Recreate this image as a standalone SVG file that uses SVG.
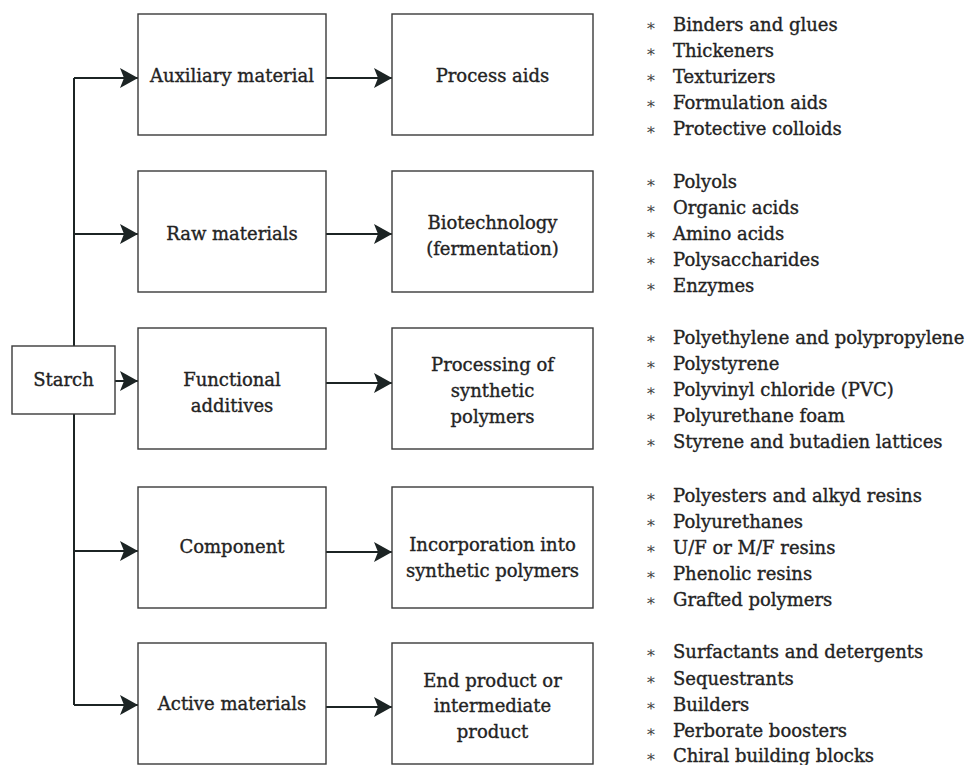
<svg xmlns="http://www.w3.org/2000/svg" width="967" height="765" viewBox="0 0 967 765">
  <style>
    .box { fill: #ffffff; stroke: #3a3a3a; stroke-width: 1.4; }
    .lbl { font-family: "DejaVu Serif", "Liberation Serif", serif; font-size: 18px; fill: #232323; stroke: #232323; stroke-width: 0.35; text-anchor: middle; }
    .item { font-family: "DejaVu Serif", "Liberation Serif", serif; font-size: 18px; fill: #232323; stroke: #232323; stroke-width: 0.35; }
    .bul { font-family: "DejaVu Serif", "Liberation Serif", serif; font-size: 16px; fill: #444; text-anchor: middle; }
    .wire { fill: none; stroke: #1c2424; stroke-width: 2; }
    .arr { fill: none; stroke: #1c2424; stroke-width: 2; marker-end: url(#head); }
  </style>
  <defs>
    <marker id="head" viewBox="0 0 18 20" refX="18" refY="10" markerWidth="18" markerHeight="20" markerUnits="userSpaceOnUse" orient="auto">
      <path d="M0,0 L18,10 L0,20 L4,10 Z" fill="#1c2424"/>
    </marker>
  </defs>

  <!-- connectors -->
  <g id="connectors">
    <path class="wire" d="M74,78 V705"/>
    <path class="arr" d="M74,78 H138"/>
    <path class="arr" d="M74,234 H138"/>
    <path class="arr" d="M115,381 H138"/>
    <path class="arr" d="M74,551 H138"/>
    <path class="arr" d="M74,705 H138"/>
    <path class="arr" d="M326,78 H392"/>
    <path class="arr" d="M326,234 H392"/>
    <path class="arr" d="M326,383 H392"/>
    <path class="arr" d="M326,552 H392"/>
    <path class="arr" d="M326,707 H392"/>
  </g>

  <g id="starch">
    <rect class="box" x="12" y="346" width="103" height="68"/>
    <text class="lbl" x="63.5" y="386">Starch</text>
  </g>

  <!-- first column: role of starch -->
  <g id="auxiliary-material">
    <rect class="box" x="138" y="14" width="188" height="121"/>
    <text class="lbl" x="232" y="82">Auxiliary material</text>
  </g>
  <g id="raw-materials">
    <rect class="box" x="138" y="171" width="188" height="121"/>
    <text class="lbl" x="232" y="240">Raw materials</text>
  </g>
  <g id="functional-additives">
    <rect class="box" x="138" y="328" width="188" height="121"/>
    <text class="lbl" x="232" y="386">Functional</text>
    <text class="lbl" x="232" y="412">additives</text>
  </g>
  <g id="component">
    <rect class="box" x="138" y="487" width="188" height="121"/>
    <text class="lbl" x="232" y="553">Component</text>
  </g>
  <g id="active-materials">
    <rect class="box" x="138" y="643" width="188" height="121"/>
    <text class="lbl" x="232" y="710">Active materials</text>
  </g>

  <!-- second column: application -->
  <g id="process-aids">
    <rect class="box" x="392" y="14" width="201" height="121"/>
    <text class="lbl" x="492.5" y="82">Process aids</text>
  </g>
  <g id="biotechnology">
    <rect class="box" x="392" y="171" width="201" height="121"/>
    <text class="lbl" x="492.5" y="229">Biotechnology</text>
    <text class="lbl" x="492.5" y="255">(fermentation)</text>
  </g>
  <g id="processing-synthetic">
    <rect class="box" x="392" y="328" width="201" height="121"/>
    <text class="lbl" x="492.5" y="371">Processing of</text>
    <text class="lbl" x="492.5" y="397">synthetic</text>
    <text class="lbl" x="492.5" y="423">polymers</text>
  </g>
  <g id="incorporation">
    <rect class="box" x="392" y="487" width="201" height="121"/>
    <text class="lbl" x="492.5" y="551">Incorporation into</text>
    <text class="lbl" x="492.5" y="577">synthetic polymers</text>
  </g>
  <g id="end-product">
    <rect class="box" x="392" y="643" width="201" height="121"/>
    <text class="lbl" x="492.5" y="687">End product or</text>
    <text class="lbl" x="492.5" y="712">intermediate</text>
    <text class="lbl" x="492.5" y="738">product</text>
  </g>

  <!-- product lists -->
  <g id="list-process-aids">
    <text class="bul" x="651" y="31">∗</text><text class="item" x="673" y="31">Binders and glues</text>
    <text class="bul" x="651" y="57">∗</text><text class="item" x="673" y="57">Thickeners</text>
    <text class="bul" x="651" y="83">∗</text><text class="item" x="673" y="83">Texturizers</text>
    <text class="bul" x="651" y="109">∗</text><text class="item" x="673" y="109">Formulation aids</text>
    <text class="bul" x="651" y="135">∗</text><text class="item" x="673" y="135">Protective colloids</text>
  </g>
  <g id="list-biotechnology">
    <text class="bul" x="651" y="188">∗</text><text class="item" x="673" y="188">Polyols</text>
    <text class="bul" x="651" y="214">∗</text><text class="item" x="673" y="214">Organic acids</text>
    <text class="bul" x="651" y="240">∗</text><text class="item" x="673" y="240">Amino acids</text>
    <text class="bul" x="651" y="266">∗</text><text class="item" x="673" y="266">Polysaccharides</text>
    <text class="bul" x="651" y="292">∗</text><text class="item" x="673" y="292">Enzymes</text>
  </g>
  <g id="list-processing">
    <text class="bul" x="651" y="344">∗</text><text class="item" x="673" y="344">Polyethylene and polypropylene</text>
    <text class="bul" x="651" y="370">∗</text><text class="item" x="673" y="370">Polystyrene</text>
    <text class="bul" x="651" y="396">∗</text><text class="item" x="673" y="396">Polyvinyl chloride (PVC)</text>
    <text class="bul" x="651" y="422">∗</text><text class="item" x="673" y="422">Polyurethane foam</text>
    <text class="bul" x="651" y="448">∗</text><text class="item" x="673" y="448">Styrene and butadien lattices</text>
  </g>
  <g id="list-incorporation">
    <text class="bul" x="651" y="502">∗</text><text class="item" x="673" y="502">Polyesters and alkyd resins</text>
    <text class="bul" x="651" y="528">∗</text><text class="item" x="673" y="528">Polyurethanes</text>
    <text class="bul" x="651" y="554">∗</text><text class="item" x="673" y="554">U/F or M/F resins</text>
    <text class="bul" x="651" y="580">∗</text><text class="item" x="673" y="580">Phenolic resins</text>
    <text class="bul" x="651" y="606">∗</text><text class="item" x="673" y="606">Grafted polymers</text>
  </g>
  <g id="list-end-product">
    <text class="bul" x="651" y="658">∗</text><text class="item" x="673" y="658">Surfactants and detergents</text>
    <text class="bul" x="651" y="685">∗</text><text class="item" x="673" y="685">Sequestrants</text>
    <text class="bul" x="651" y="711">∗</text><text class="item" x="673" y="711">Builders</text>
    <text class="bul" x="651" y="737">∗</text><text class="item" x="673" y="737">Perborate boosters</text>
    <text class="bul" x="651" y="762">∗</text><text class="item" x="673" y="762">Chiral building blocks</text>
  </g>
</svg>
